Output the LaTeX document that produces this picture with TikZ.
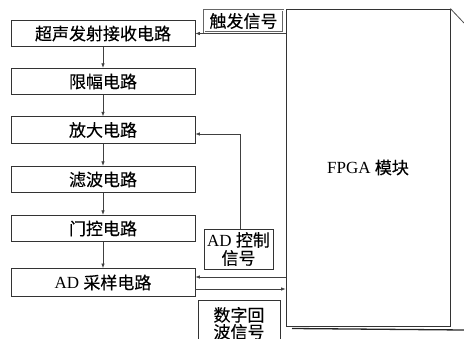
\documentclass[tikz,border=0pt]{standalone}
\usepackage{fontspec}
\setmainfont{Liberation Serif}
\newfontfamily\cjk[FakeBold=0.25]{Noto Sans CJK SC}
\usetikzlibrary{arrows.meta,calc}
\tikzset{
  blk/.style={draw=black!80, line width=0.8pt, minimum width=184pt, minimum height=26.5pt, inner sep=0pt, font=\fontsize{17}{20}\selectfont},
  lbl/.style={draw=black!80, line width=0.8pt, inner sep=1pt, align=center, font=\fontsize{17}{20}\selectfont},
  conn/.style={draw=black!75, line width=0.7pt, -{Latex[length=4.5pt,width=3.5pt]}},
}
\begin{document}
\begin{tikzpicture}[x=1pt,y=-1pt]
\useasboundingbox (0,0) rectangle (464,339);
\clip (0,0) rectangle (464,339);
% left column
\node[blk] (b1) at (103,33.5) {\cjk 超声发射接收电路};
\node[blk] (b2) at (103,81.5) {\cjk 限幅电路};
\node[blk] (b3) at (103,130) {\cjk 放大电路};
\node[blk] (b4) at (103,179.5) {\cjk 滤波电路};
\node[blk] (b5) at (103,228.5) {\cjk 门控电路};
\node[blk, minimum height=28pt] (b6) at (103,282.5) {AD {\cjk 采样电路}};
% FPGA block
\node[draw=black!80, line width=0.8pt, minimum width=164pt, minimum height=317pt, inner sep=0pt, font=\fontsize{17}{20}\selectfont] (fpga) at (368,167.5) {FPGA {\cjk 模块}};
\coordinate (fne) at (464,23);
\draw[black!70, line width=0.8pt] (fpga.north east) -- (fne);
\coordinate (fsw) at (292,328.5);
\coordinate (fse) at (464,330);
\draw[black!85, line width=1.3pt] (fsw) -- (fse);
% labels
\node[draw=black!60, double=white, double distance=0.6pt, line width=0.6pt, inner sep=1pt, minimum width=79pt, minimum height=22pt, font=\fontsize{17}{20}\selectfont] (trig) at (243.5,21) {\cjk 触发信号};
\node[lbl, minimum width=69pt, minimum height=40pt] (adc) at (238.5,249) {AD {\cjk 控制}\\[-2pt]{\cjk 信号}};
\node[draw=black!80, line width=0.8pt, inner sep=1pt, align=center, minimum width=82pt, minimum height=46pt, anchor=north, font=\fontsize{17}{19}\selectfont] (dig) at (239,300) {{\cjk 数字回}\\[-2pt]{\cjk 波信号}};
% connectors
\draw[conn] (b1) -- (b2);
\draw[conn] (b2) -- (b3);
\draw[conn] (b3) -- (b4);
\draw[conn] (b4) -- (b5);
\draw[conn] (b5) -- (b6);
\draw[conn] (b1.east -| fpga.west) -- (b1.east);
\draw[conn] ([xshift=2pt]adc.north) |- ([yshift=-4pt]b3.east);
\draw[conn] ([yshift=5.5pt]b6.east -| fpga.west) -- ([yshift=5.5pt]b6.east);
\draw[conn] ([yshift=-6.5pt]b6.east) -- ([yshift=-6.5pt]b6.east -| fpga.west);
\end{tikzpicture}
\end{document}
